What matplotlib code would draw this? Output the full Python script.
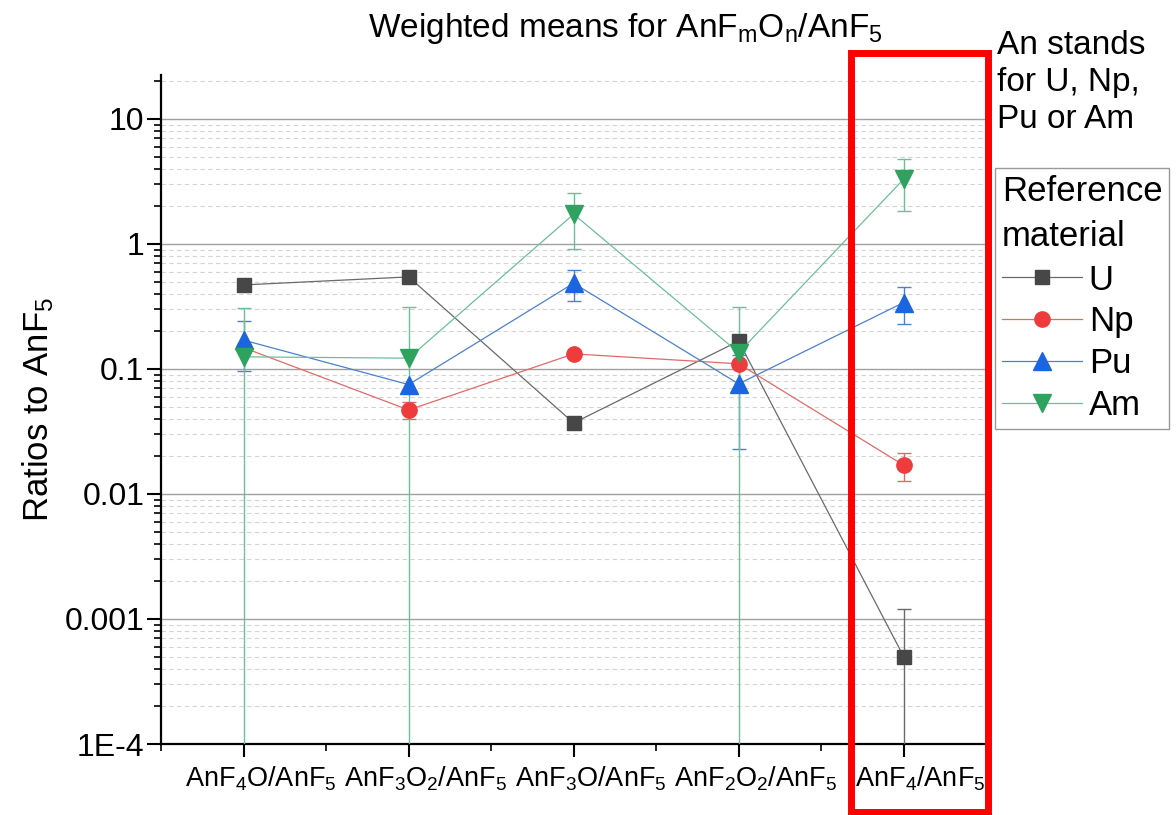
import numpy as np
import matplotlib
matplotlib.use("Agg")
import matplotlib.pyplot as plt
import matplotlib.transforms as mtransforms
from matplotlib.ticker import LogLocator, FixedLocator, FuncFormatter, NullFormatter
from matplotlib.lines import Line2D
from matplotlib.patches import Rectangle

plt.rcParams['font.family'] = ['Liberation Sans', 'DejaVu Sans']
plt.rcParams['mathtext.fontset'] = 'custom'
plt.rcParams['mathtext.rm'] = 'Liberation Sans'
plt.rcParams['mathtext.it'] = 'Liberation Sans'
plt.rcParams['mathtext.default'] = 'regular'

# categories (ratio to AnF5)
categories = [r'AnF$_4$O/AnF$_5$', r'AnF$_3$O$_2$/AnF$_5$', r'AnF$_3$O/AnF$_5$',
              r'AnF$_2$O$_2$/AnF$_5$', r'AnF$_4$/AnF$_5$']

# weighted means
u_vals = [0.47, 0.545, 0.037, 0.167, 0.0005]
np_vals = [0.148, 0.047, 0.132, 0.11, 0.017]
pu_vals = [0.17, 0.075, 0.485, 0.076, 0.34]
am_vals = [0.125, 0.122, 1.73, 0.135, 3.3]

# uncertainties (0 = not visible, hidden behind the marker)
u_err = [0, 0, 0, 0, 0.0007]
np_err = [0, 0.007, 0, 0, 0.0043]
pu_err = [0.073, 0, 0.135, 0.053, 0.11]
am_err = [0.18, 0.19, 0.82, 0.18, 1.45]

series = [
    ('U', u_vals, u_err, 's', '#474747', '#6a6a6a', 10),
    ('Np', np_vals, np_err, 'o', '#ee3b3b', '#e06a6a', 11),
    ('Pu', pu_vals, pu_err, '^', '#1a66e0', '#4d80cc', 13),
    ('Am', am_vals, am_err, 'v', '#2da35f', '#6cbf98', 13),
]

fig = plt.figure(figsize=(11.76, 8.15), dpi=100)
ax = fig.add_axes([0.137, 0.0871, 0.7016, 0.821])

x = np.arange(1, len(categories) + 1)

handles = []
for name, vals, err, mk, col, lcol, ms in series:
    vals = np.array(vals, dtype=float)
    err = np.array(err, dtype=float)
    ax.plot(x, vals, '-', color=lcol, lw=0.9, zorder=3)
    m = err > 0
    lower = np.minimum(err, vals * (1 - 1e-9))
    ax.errorbar(x[m], vals[m], yerr=[lower[m], err[m]], fmt='none', ecolor=lcol,
                elinewidth=1.0, capsize=5, capthick=1.0, zorder=3)
    ax.plot(x, vals, mk, color=col, ms=ms, mec=col, ls='none', zorder=4)
    handles.append(Line2D([0], [0], color=lcol, lw=0.9, marker=mk, ms=ms,
                          mfc=col, mec=col, label=name))

ax.set_yscale('log')
ax.set_ylim(1e-4, 22.5)
ax.set_xlim(0.5, 5.5)

ax.yaxis.set_major_locator(LogLocator(base=10, numticks=10))
ax.yaxis.set_minor_locator(LogLocator(base=10, subs=np.arange(2, 10), numticks=20))
lab = {1e-4: '1E-4', 1e-3: '0.001', 1e-2: '0.01', 1e-1: '0.1', 1: '1', 10: '10'}
ax.yaxis.set_major_formatter(FuncFormatter(lambda v, p: lab.get(round(v, 6) if v < 1 else v, '')))
ax.yaxis.set_minor_formatter(NullFormatter())

ax.set_xticks(x)
ax.set_xticklabels(categories, fontsize=19.5)
ax.xaxis.set_minor_locator(FixedLocator(np.arange(0.5, 5.6, 1.0)))

ax.grid(True, which='major', axis='y', color='#a0a0a0', lw=1.0, ls='-')
ax.grid(True, which='minor', axis='y', color='#d4d4d4', lw=0.8, ls=(0, (4, 3)))
ax.set_axisbelow(True)

for s in ['top', 'right']:
    ax.spines[s].set_visible(False)
for s in ['left', 'bottom']:
    ax.spines[s].set_linewidth(1.6)

ax.tick_params(axis='y', which='major', direction='out', length=10, width=1.5, labelsize=23, pad=2)
ax.tick_params(axis='y', which='minor', direction='out', length=5, width=1.2)
ax.tick_params(axis='x', which='major', direction='out', length=9, width=1.5, pad=6)
ax.tick_params(axis='x', which='minor', direction='out', length=5, width=1.2)

# labels sit a little right of their ticks in the original
shift = mtransforms.ScaledTranslation(0.17, 0, fig.dpi_scale_trans)
for t in ax.get_xticklabels():
    t.set_transform(t.get_transform() + shift)

ax.set_ylabel(r'Ratios to AnF$_5$', fontsize=25, labelpad=6)
fig.text(0.532, 0.955, r'Weighted means for AnF$_m$O$_n$/AnF$_5$', fontsize=24,
         ha='center', va='baseline')

# highlight of the last category
rect = Rectangle((4.68, -0.102), 0.83, 1.135, transform=ax.get_xaxis_transform(),
                 fill=False, edgecolor='red', lw=5, clip_on=False, zorder=10)
ax.add_patch(rect)

fig.text(0.848, 0.963, 'An stands\nfor U, Np,\nPu or Am', fontsize=24,
         va='top', ha='left', linespacing=1.24)

leg = fig.legend(handles=handles, loc='upper left', bbox_to_anchor=(0.846, 0.794),
                 title='Reference\nmaterial', fontsize=25, title_fontsize=25,
                 frameon=True, fancybox=False, edgecolor='#808080',
                 handlelength=2.3, handletextpad=0.2, borderpad=0.2,
                 labelspacing=0.25, borderaxespad=0)
leg._legend_box.align = 'left'
leg._legend_box.sep = 8
leg.get_title().set_linespacing(1.45)
leg.get_frame().set_linewidth(1.0)

fig.savefig('out.png', dpi=100)
